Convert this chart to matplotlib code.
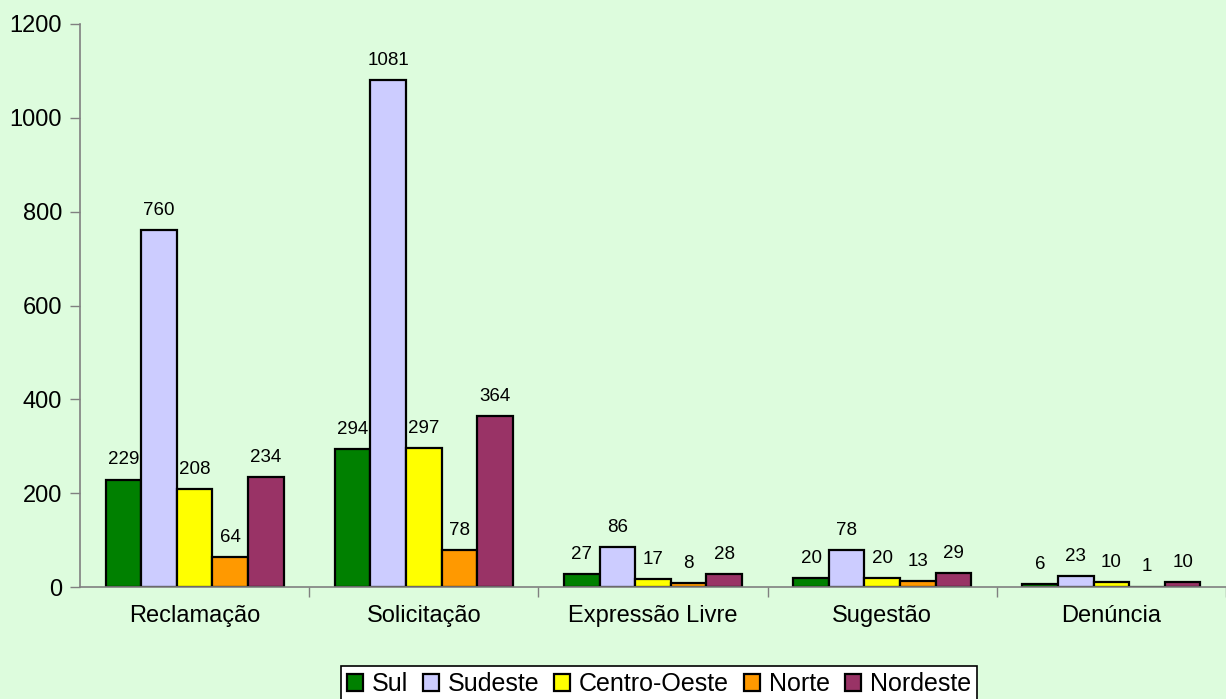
import matplotlib

matplotlib.use("Agg")
import matplotlib.pyplot as plt
import numpy as np

categories = ["Reclamação", "Solicitação", "Expressão Livre", "Sugestão", "Denúncia"]
regions = ["Sul", "Sudeste", "Centro-Oeste", "Norte", "Nordeste"]
sul = [229, 294, 27, 20, 6]
sudeste = [760, 1081, 86, 78, 23]
centro_oeste = [208, 297, 17, 20, 10]
norte = [64, 78, 8, 13, 1]
nordeste = [234, 364, 28, 29, 10]
colors = ["#008000", "#ccccff", "#ffff00", "#ff9900", "#993366"]

plt.rcParams["font.family"] = ["Liberation Sans", "DejaVu Sans"]

bg = "#ddfcdd"
W, H = 1226, 699
fig = plt.figure(figsize=(W / 100, H / 100), dpi=100, facecolor=bg)
ax = fig.add_axes([80 / W, (H - 587) / H, 1 - 80 / W, (587 - 24) / H])
ax.set_facecolor(bg)

series = [sul, sudeste, centro_oeste, norte, nordeste]
x = np.arange(len(categories))
step = 230.5
w = 35.8 / step
for i, (name, vals, c) in enumerate(zip(regions, series, colors)):
    pos = x + (i - 2) * w
    ax.bar(pos, vals, width=w, color=c, edgecolor="black", linewidth=1.6, label=name)
    for p, v in zip(pos, vals):
        ax.annotate(str(v), (p, v), xytext=(0, 8), textcoords="offset points",
                    ha="center", va="bottom", fontsize=13.5)

ax.set_ylim(0, 1200)
ax.set_xlim(-0.5, -0.5 + (W - 80) / step)
ax.set_yticks(range(0, 1201, 200))
ax.set_xticks(x + 0.5, minor=False)
ax.set_xticklabels([])
ax.set_xticks(x, minor=True)
ax.set_xticklabels(categories, minor=True, fontsize=17)
ax.tick_params(axis="x", which="minor", length=0, pad=13)
ax.tick_params(axis="x", which="major", length=7, width=1, color="#808080", direction="out")
ax.tick_params(axis="y", length=7, width=1, color="#808080", direction="out", labelsize=17, pad=6)

for s in ["top", "right"]:
    ax.spines[s].set_visible(False)
for s in ["left", "bottom"]:
    ax.spines[s].set_color("#808080")
    ax.spines[s].set_linewidth(1.2)

leg = fig.legend(loc="upper center", bbox_to_anchor=(659 / W, 1 - 666 / H), ncol=5,
                 fontsize=18, frameon=True, fancybox=False, edgecolor="black",
                 facecolor="white", framealpha=1, handlelength=0.64, handleheight=0.64,
                 handletextpad=0.35, columnspacing=0.6, borderpad=0.25, borderaxespad=0)
leg.get_frame().set_linewidth(1.2)

fig.savefig("out.png", dpi=100, facecolor=bg)
